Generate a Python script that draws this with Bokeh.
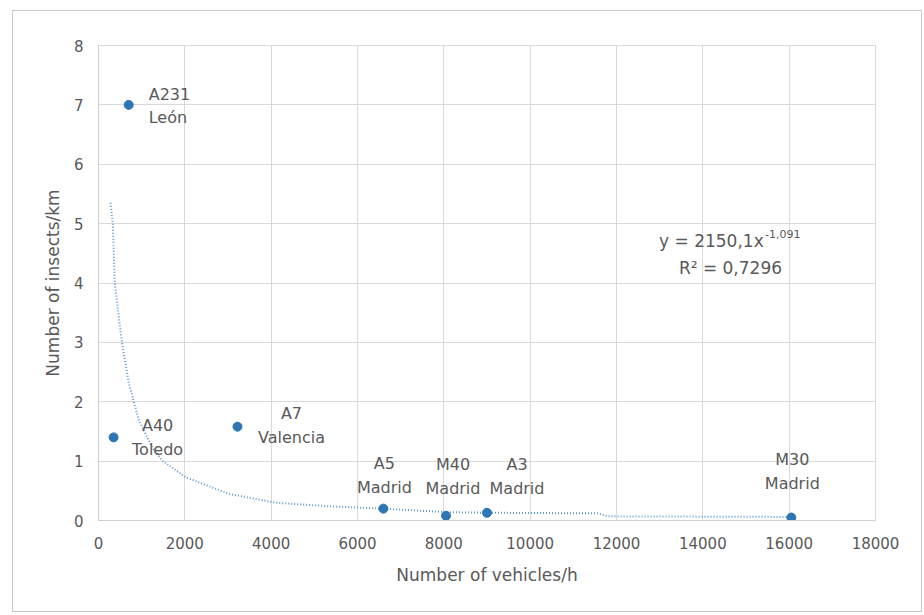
from bokeh.plotting import figure
from bokeh.models import ColumnDataSource, Label, FixedTicker, Range1d
from bokeh.core.properties import value
from bokeh.embed import file_html
from bokeh.resources import INLINE

# ---- data ----
roads = ["A231\nLeón", "A40\nToledo", "A7\nValencia", "A5\nMadrid", "M40\nMadrid", "A3\nMadrid", "M30\nMadrid"]
vehicles = [700, 350, 3220, 6600, 8050, 9000, 16050]
insects = [7.0, 1.4, 1.58, 0.2, 0.08, 0.13, 0.05]
# trendline (power fit)
trend_x = [278, 331, 378, 471, 548, 703, 935, 1243, 1475, 2015, 3013, 4100, 5330, 6580, 8090, 9080, 11560, 11800, 16030]
trend_y = [5.35, 5.0, 4.0, 3.42, 2.98, 2.31, 1.69, 1.23, 1.01, 0.73, 0.45, 0.30, 0.24, 0.20, 0.14, 0.13, 0.12, 0.07, 0.06]
x_ticks = [0, 2000, 4000, 6000, 8000, 10000, 12000, 14000, 16000, 18000]
y_ticks = [0, 1, 2, 3, 4, 5, 6, 7, 8]
equation_text = "y = 2150,1x"
equation_exp = "-1,091"
r2_text = "R² = 0,7296"

# ---- style ----
FONT = "DejaVu Sans"
TXT = "#595959"
FS_TICK = "15px"
FS_TITLE = "17px"
FS_LAB = "16px"
FS_EQ = "17px"
# label offsets in pixels (dx, dy) and alignment per point
lab_dx = [20, 44, 54, 1, 7, 30, 1]
lab_dy = [1, 0, -1, -33, -39, -36, -46]
lab_align = ["left", "center", "center", "center", "center", "center", "center"]

p = figure(width=910, height=602, output_backend="svg", toolbar_location=None,
           x_range=Range1d(0, 18000), y_range=Range1d(0, 8),
           min_border_left=85, min_border_right=48, min_border_top=34, min_border_bottom=93)
p.margin = (10, 0, 0, 12)
p.styles = {"border": "1px solid #c8c8c8"}
p.background_fill_color = "white"
p.border_fill_color = "white"
p.outline_line_color = "#d9d9d9"

p.xgrid.ticker = FixedTicker(ticks=x_ticks)
p.ygrid.ticker = FixedTicker(ticks=y_ticks)
p.grid.grid_line_color = "#d9d9d9"
p.grid.grid_line_width = 1

for ax in (p.xaxis[0], p.yaxis[0]):
    ax.major_tick_line_color = None
    ax.minor_tick_line_color = None
    ax.major_tick_out = 0
    ax.major_tick_in = 0
    ax.minor_tick_out = 0
    ax.axis_line_color = "#d0d0d0"
    ax.major_label_text_font = FONT
    ax.major_label_text_font_size = FS_TICK
    ax.major_label_text_color = TXT
    ax.axis_label_text_font = FONT
    ax.axis_label_text_font_size = FS_TITLE
    ax.axis_label_text_font_style = "normal"
    ax.axis_label_text_color = TXT

p.xaxis.ticker = FixedTicker(ticks=x_ticks)
p.yaxis.ticker = FixedTicker(ticks=y_ticks)
p.xaxis.axis_label = "Number of vehicles/h"
p.yaxis.axis_label = "Number of insects/km"
p.xaxis.major_label_standoff = 16
p.xaxis.axis_label_standoff = 13
p.yaxis.major_label_standoff = 15
p.yaxis.axis_label_standoff = 8

# trendline
p.line(trend_x, trend_y, line_color="#5B9BD5", line_width=2, line_dash="1 2")

src = ColumnDataSource(dict(x=vehicles, y=insects, t=roads, dx=lab_dx, dy=lab_dy, al=lab_align))
p.scatter("x", "y", source=src, size=9, fill_color="#2E75B6", line_color="#2E75B6")
p.text("x", "y", text="t", source=src, x_offset="dx", y_offset="dy", text_align="al",
       text_baseline="middle", text_font=value(FONT), text_font_size=FS_LAB,
       text_color=TXT, text_line_height=1.25)

# trendline equation
p.add_layout(Label(x=15410, y=4.70, text=equation_text, text_align="right", text_baseline="middle",
                   text_font=FONT, text_font_size=FS_EQ, text_color=TXT))
p.add_layout(Label(x=15440, y=4.83, text=equation_exp, text_align="left", text_baseline="middle",
                   text_font=FONT, text_font_size="11px", text_color=TXT))
p.add_layout(Label(x=14640, y=4.25, text=r2_text, text_align="center", text_baseline="middle",
                   text_font=FONT, text_font_size=FS_EQ, text_color=TXT))

open("out.html", "w").write(file_html(p, INLINE))
